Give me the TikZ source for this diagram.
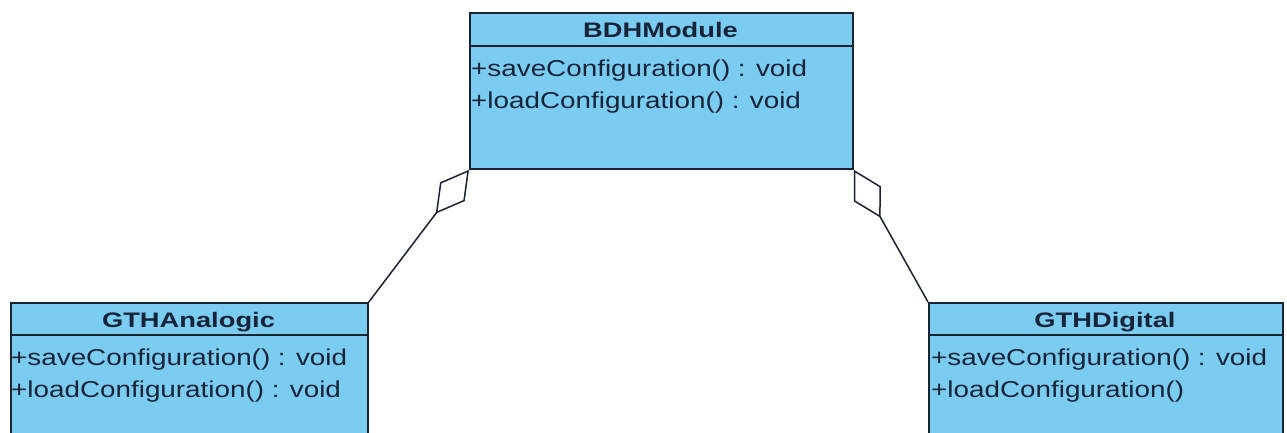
\documentclass[tikz,border=0pt]{standalone}
\usepackage{fontspec}
\newfontfamily\mfont{Liberation Sans}[FakeStretch=1.21]
\newfontfamily\hfont{Liberation Sans}[FakeStretch=1.3]
\usetikzlibrary{arrows.meta}
\definecolor{classfill}{RGB}{122,204,240}
\definecolor{classline}{RGB}{25,35,50}
\definecolor{classtext}{RGB}{22,36,58}
\begin{document}
\begin{tikzpicture}[x=1pt,y=-1pt,
  classbox/.style={draw=classline, fill=classfill, line width=1.8pt, rectangle, anchor=north west, inner sep=0pt},
  cname/.style={anchor=base, inner sep=0pt, text=classtext, font=\hfont\bfseries\fontsize{21}{24}\selectfont},
  cmeth/.style={anchor=base west, inner sep=0pt, text=classtext, font=\mfont\fontsize{23}{26}\selectfont},
  sepline/.style={draw=classline, line width=1.8pt},
  aggr/.style={draw=classline, line width=1.5pt, -{Diamond[open, length=55pt, width=31pt, line width=1.5pt]}}
]
\useasboundingbox (0,0) rectangle (1287,432);
\clip (0,0) rectangle (1287,432);
\fill[white] (0,0) rectangle (1287,432);

% BDHModule
\node[classbox, minimum width=383pt, minimum height=156pt] (bdh) at (469,12) {};
\draw[sepline] (bdh.west |- 0,46) -- (bdh.east |- 0,46);
\node[cname] (bdhname) at (660.5,37) {BDHModule};
\node[cmeth] (bdhm1) at (471,76) {+saveConfiguration() : void};
\node[cmeth] (bdhm2) at (471,108) {+loadConfiguration() : void};

% GTHAnalogic
\node[classbox, minimum width=357pt, minimum height=200pt] (ana) at (10,302) {};
\draw[sepline] (ana.west |- 0,335) -- (ana.east |- 0,335);
\node[cname] (ananame) at (188.5,327) {GTHAnalogic};
\node[cmeth] (anam1) at (11,365) {+saveConfiguration() : void};
\node[cmeth] (anam2) at (11,397) {+loadConfiguration() : void};

% GTHDigital
\node[classbox, minimum width=354pt, minimum height=200pt] (dig) at (928,302) {};
\draw[sepline] (dig.west |- 0,335) -- (dig.east |- 0,335);
\node[cname] (digname) at (1105,327) {GTHDigital};
\node[cmeth] (digm1) at (931,365) {+saveConfiguration() : void};
\node[cmeth] (digm2) at (931,397) {+loadConfiguration()};

% aggregations
\draw[aggr] (ana.north east) -- (bdh.south west);
\draw[aggr] (dig.north west) -- (bdh.south east);
\end{tikzpicture}
\end{document}
